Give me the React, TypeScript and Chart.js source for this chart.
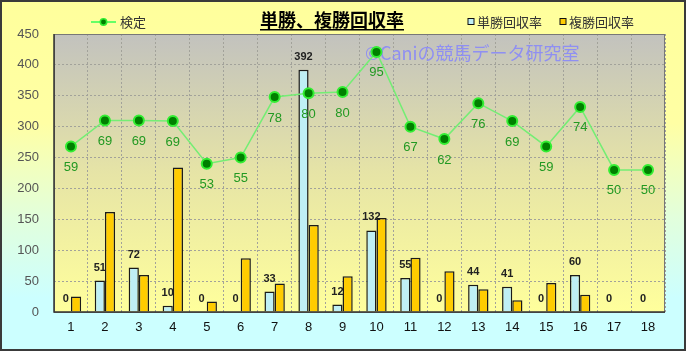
import React, { useEffect, useRef } from "react";
import { Chart, registerables } from "chart.js";

Chart.register(...registerables);

const categories = ["1","2","3","4","5","6","7","8","9","10","11","12","13","14","15","16","17","18"];
const tanshoRate = [0,51,72,10,0,0,33,392,12,132,55,0,44,41,0,60,0,0];
const fukushoRate = [25,162,60,234,17,87,46,141,58,152,88,66,37,19,47,28,0,0];
const kentei = [268,310,310,309,240,250,348,354,356,421,300,280,338,309,268,332,230,230];
const kenteiLabels = [59,69,69,69,53,55,78,80,80,95,67,62,76,69,59,74,50,50];
const yTicks = [0,50,100,150,200,250,300,350,400,450];

const FONT = "'Liberation Sans', 'Noto Sans CJK JP', sans-serif";
const JFONT = "'Noto Sans CJK JP', 'Liberation Sans', sans-serif";

const decor = {
  id: "decor",
  beforeDraw(chart: any) {
    const { ctx, width, height, chartArea: a } = chart;
    ctx.save();
    const g = ctx.createLinearGradient(0, 0, 0, height);
    g.addColorStop(0, "#FFFF9C");
    g.addColorStop(0.35, "#FFFFA4");
    g.addColorStop(0.62, "#E2FFDC");
    g.addColorStop(0.85, "#CCFFFF");
    g.addColorStop(1, "#CCFFFF");
    ctx.fillStyle = g;
    ctx.fillRect(0, 0, width, height);
    const p = ctx.createLinearGradient(0, a.top, 0, a.bottom);
    p.addColorStop(0, "#C2C2BE");
    p.addColorStop(0.5, "#E6E4A6");
    p.addColorStop(1, "#FFFF9C");
    ctx.fillStyle = p;
    ctx.fillRect(a.left, a.top, a.right - a.left, a.bottom - a.top);

    // title
    ctx.fillStyle = "#000";
    ctx.font = "bold 18px " + JFONT;
    ctx.textAlign = "center";
    ctx.textBaseline = "middle";
    const title = "単勝、複勝回収率";
    ctx.fillText(title, 332, 20);
    const tw = ctx.measureText(title).width;
    ctx.fillRect(332 - tw / 2, 29, tw, 1.5);

    // legend left
    ctx.strokeStyle = "#66FF66";
    ctx.lineWidth = 2;
    ctx.beginPath();
    ctx.moveTo(91, 22);
    ctx.lineTo(116, 22);
    ctx.stroke();
    ctx.beginPath();
    ctx.arc(103.5, 22, 3.2, 0, Math.PI * 2);
    ctx.fillStyle = "#008000";
    ctx.fill();
    ctx.lineWidth = 1.5;
    ctx.strokeStyle = "#33EE33";
    ctx.stroke();
    ctx.font = "13px " + JFONT;
    ctx.textAlign = "left";
    ctx.fillStyle = "#333";
    ctx.fillText("検定", 120, 22);

    // legend right
    const items = [
      { x: 471, c: "#BFEFF5", t: "単勝回収率" },
      { x: 563, c: "#FFCC00", t: "複勝回収率" },
    ];
    items.forEach((it) => {
      ctx.fillStyle = it.c;
      ctx.fillRect(it.x - 3, 18.5, 6, 6);
      ctx.strokeStyle = "#111";
      ctx.lineWidth = 1;
      ctx.strokeRect(it.x - 3, 18.5, 6, 6);
      ctx.fillStyle = "#333";
      ctx.font = "13px " + JFONT;
      ctx.fillText(it.t, it.x + 6, 22);
    });
    ctx.restore();
  },
  beforeDatasetsDraw(chart: any) {
    const { ctx } = chart;
    ctx.save();
    ctx.fillStyle = "#8F8FF2";
    ctx.font = "18px " + JFONT;
    ctx.textAlign = "left";
    ctx.textBaseline = "middle";
    ctx.fillText("©Caniの競馬データ研究室", 365, 53);
    ctx.restore();
  },
  afterDatasetsDraw(chart: any) {
    const { ctx, chartArea: a } = chart;
    ctx.save();
    const meta0 = chart.getDatasetMeta(1);
    ctx.font = "bold 11px " + FONT;
    ctx.fillStyle = "#222";
    ctx.textAlign = "center";
    ctx.textBaseline = "middle";
    meta0.data.forEach((el: any, i: number) => {
      ctx.fillText(String(tanshoRate[i]), el.x, el.y - 13);
    });
    const meta2 = chart.getDatasetMeta(0);
    ctx.font = "13px " + FONT;
    ctx.fillStyle = "#229922";
    meta2.data.forEach((el: any, i: number) => {
      ctx.fillText(String(kenteiLabels[i]), el.x, el.y + 21);
    });
    // plot border
    ctx.strokeStyle = "#777";
    ctx.lineWidth = 1;
    ctx.strokeRect(a.left + 0.5, a.top + 0.5, a.right - a.left - 1, a.bottom - a.top);
    ctx.strokeStyle = "#333";
    ctx.lineWidth = 1.5;
    ctx.beginPath();
    ctx.moveTo(a.left, a.top);
    ctx.lineTo(a.left, a.bottom);
    ctx.lineTo(a.right, a.bottom);
    ctx.stroke();
    ctx.restore();
  },
  afterDraw(chart: any) {
    const { ctx, width, height } = chart;
    ctx.save();
    ctx.strokeStyle = "#3A3A3A";
    ctx.lineWidth = 2;
    ctx.strokeRect(1, 1, width - 2, height - 2);
    ctx.restore();
  },
};

export default function App() {
  const ref = useRef<HTMLCanvasElement>(null);
  useEffect(() => {
    document.body.style.margin = "0";
    const chart = new Chart(ref.current as HTMLCanvasElement, {
      type: "bar",
      data: {
        labels: categories,
        datasets: [
          {
            type: "line",
            label: "検定",
            data: kentei,
            borderColor: "#74EE74",
            borderWidth: 1.5,
            pointRadius: 5,
            pointBackgroundColor: "#008000",
            pointBorderColor: "#33EE33",
            pointBorderWidth: 2,
            tension: 0,
            order: 0,
          } as any,
          {
            label: "単勝回収率",
            data: tanshoRate,
            backgroundColor: "#BFEFF5",
            borderColor: "#1a1a1a",
            borderWidth: 1.5,
            categoryPercentage: 0.6,
            barPercentage: 1,
            order: 1,
          },
          {
            label: "複勝回収率",
            data: fukushoRate,
            backgroundColor: "#FFCC00",
            borderColor: "#1a1a1a",
            borderWidth: 1.5,
            categoryPercentage: 0.6,
            barPercentage: 1,
            order: 1,
          },
        ],
      },
      options: {
        animation: false,
        responsive: false,
        layout: { padding: { left: 0, right: 21, top: 34, bottom: 0 } },
        plugins: {
          legend: { display: false },
          title: { display: false },
          tooltip: { enabled: false },
        },
        scales: {
          x: {
            grid: { color: "#a2a29a", lineWidth: 1, drawTicks: false, offset: true },
            border: { display: false, dash: [2, 2] },
            ticks: { color: "#111", font: { size: 13, family: FONT }, padding: 8 },
            afterFit: (s: any) => { s.height = 39; },
          },
          y: {
            min: 0,
            max: 450,
            afterBuildTicks: (s: any) => { s.ticks = yTicks.map((v) => ({ value: v })); },
            grid: { color: "#a2a29a", lineWidth: 1, drawTicks: false },
            border: { display: false, dash: [2, 2] },
            ticks: { color: "#555", font: { size: 13, family: FONT }, padding: 15 },
            afterFit: (s: any) => { s.width = 54; },
          },
        },
      },
      plugins: [decor],
    });
    return () => chart.destroy();
  }, []);
  return (
    <div style={{ width: 686, height: 351 }}>
      <canvas ref={ref} width={686} height={351} />
    </div>
  );
}
